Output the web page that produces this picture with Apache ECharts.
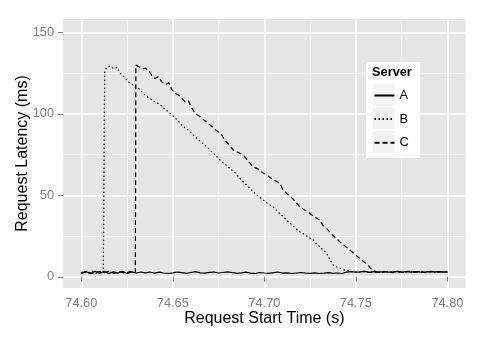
<!DOCTYPE html>
<html>
<head>
<meta charset="utf-8">
<script src="https://cdn.jsdelivr.net/npm/echarts@6/dist/echarts.min.js"></script>
<style>
  html, body { margin: 0; padding: 0; background: #fff; }
  #chart { width: 485px; height: 339px; }
</style>
</head>
<body>
<div id="chart"></div>
<script>
// axis ticks
const xTicks = [74.60, 74.65, 74.70, 74.75, 74.80];
const xMinorTicks = [74.625, 74.675, 74.725, 74.775];
const yTicks = [0, 50, 100, 150];
const yMinorTicks = [25, 75, 125];
const servers = ['A', 'B', 'C'];

// server A
const aTime = [
  74.6000, 74.6025, 74.6050, 74.6075, 74.6100, 74.6125, 74.6150, 74.6175, 74.6200, 74.6225,
  74.6250, 74.6275, 74.6300, 74.6325, 74.6350, 74.6375, 74.6400, 74.6425, 74.6450, 74.6475,
  74.6500, 74.6525, 74.6550, 74.6575, 74.6600, 74.6625, 74.6650, 74.6675, 74.6700, 74.6725,
  74.6750, 74.6775, 74.6800, 74.6825, 74.6850, 74.6875, 74.6900, 74.6925, 74.6950, 74.6975,
  74.7000, 74.7025, 74.7050, 74.7075, 74.7100, 74.7125, 74.7150, 74.7175, 74.7200, 74.7225,
  74.7250, 74.7275, 74.7300, 74.7325, 74.7350, 74.7375, 74.7400, 74.7425, 74.7450, 74.7475,
  74.7500, 74.7525, 74.7550, 74.7575, 74.7600, 74.7625, 74.7650, 74.7675, 74.7700, 74.7725,
  74.7750, 74.7775, 74.7800, 74.7825, 74.7850, 74.7875, 74.7900, 74.7925, 74.7950, 74.7975,
  74.8000
];
const aLatency = [
  2.0, 3.2, 1.9, 3.4, 2.1, 3.3, 2.0, 3.1, 2.2, 3.4,
  2.0, 3.0, 2.3, 2.9, 2.4, 2.9, 2.2, 2.8, 2.3, 2.0,
  2.4, 2.9, 2.5, 2.1, 2.6, 3.1, 2.4, 2.2, 2.7, 2.9,
  2.3, 2.6, 3.0, 2.5, 2.1, 2.4, 2.8, 2.2, 2.0, 2.6,
  2.3, 2.1, 2.5, 2.9, 2.2, 2.4, 2.0, 2.3, 2.6, 2.2,
  2.1, 2.4, 2.0, 2.2, 2.5, 2.1, 2.3, 2.0, 2.9, 3.2,
  2.8, 3.0, 3.3, 2.7, 3.1, 2.9, 3.2, 2.8, 3.0, 3.3,
  2.9, 3.1, 2.8, 3.2, 3.0, 2.9, 3.1, 3.0, 3.2, 2.9,
  3.1
];

// server B
const bTime = [
  74.6000, 74.6020, 74.6040, 74.6060, 74.6080, 74.6100, 74.6120, 74.6128, 74.6140, 74.6158,
  74.6175, 74.6195, 74.6213, 74.6235, 74.6258, 74.6275, 74.6294, 74.6310, 74.6331, 74.6350,
  74.6370, 74.6403, 74.6430, 74.6455, 74.6476, 74.6500, 74.6525, 74.6549, 74.6575, 74.6600,
  74.6622, 74.6645, 74.6670, 74.6694, 74.6720, 74.6745, 74.6767, 74.6790, 74.6812, 74.6840,
  74.6867, 74.6890, 74.6915, 74.6939, 74.6965, 74.6994, 74.7020, 74.7049, 74.7075, 74.7100,
  74.7122, 74.7150, 74.7172, 74.7194, 74.7220, 74.7245, 74.7267, 74.7290, 74.7315, 74.7340,
  74.7358, 74.7376, 74.7395, 74.7412, 74.7439, 74.7460, 74.7485, 74.7510, 74.7540, 74.7570,
  74.7600, 74.7630, 74.7660, 74.7690, 74.7720, 74.7750, 74.7780, 74.7810, 74.7840, 74.7870,
  74.7900, 74.7930, 74.7960, 74.8000
];
const bLatency = [
  2.6, 3.3, 2.1, 3.4, 2.2, 3.2, 2.5, 126.5, 128.6, 129.3,
  127.8, 128.4, 124.8, 122.6, 119.6, 118.3, 116.6, 115.9, 113.5, 111.2,
  109.8, 107.4, 105.6, 103.1, 101.2, 98.9, 96.0, 93.1, 90.8, 88.4,
  85.9, 83.6, 81.3, 78.8, 75.9, 73.2, 70.6, 68.7, 66.5, 63.8,
  60.4, 57.6, 55.0, 52.1, 49.6, 47.1, 44.8, 42.9, 39.8, 37.2,
  34.8, 31.9, 29.7, 27.6, 25.8, 24.0, 22.5, 19.6, 17.1, 14.4,
  10.5, 7.2, 6.0, 5.2, 4.1, 3.6, 3.1, 2.7, 3.3, 2.6,
  3.2, 2.8, 3.4, 2.7, 3.1, 2.6, 3.3, 2.9, 3.2, 2.7,
  3.3, 2.8, 3.2, 2.9
];

// server C
const cTime = [
  74.6000, 74.6030, 74.6060, 74.6090, 74.6120, 74.6150, 74.6180, 74.6210, 74.6240, 74.6270,
  74.6295, 74.6298, 74.6315, 74.6335, 74.6350, 74.6367, 74.6385, 74.6403, 74.6420, 74.6440,
  74.6460, 74.6478, 74.6495, 74.6513, 74.6530, 74.6550, 74.6567, 74.6585, 74.6600, 74.6622,
  74.6645, 74.6670, 74.6694, 74.6720, 74.6745, 74.6767, 74.6790, 74.6810, 74.6830, 74.6860,
  74.6885, 74.6910, 74.6939, 74.6965, 74.6990, 74.7013, 74.7040, 74.7065, 74.7085, 74.7100,
  74.7122, 74.7150, 74.7172, 74.7194, 74.7220, 74.7249, 74.7275, 74.7303, 74.7320, 74.7340,
  74.7360, 74.7385, 74.7412, 74.7440, 74.7467, 74.7495, 74.7521, 74.7545, 74.7567, 74.7580,
  74.7594, 74.7610, 74.7640, 74.7670, 74.7700, 74.7730, 74.7760, 74.7790, 74.7820, 74.7850,
  74.7880, 74.7910, 74.7940, 74.7970, 74.8000
];
const cLatency = [
  2.4, 3.3, 2.0, 3.2, 2.3, 3.4, 2.1, 3.1, 2.2, 3.3,
  2.6, 129.9, 128.9, 127.5, 128.0, 126.8, 123.5, 121.7, 122.8, 119.6,
  118.0, 119.0, 114.8, 112.5, 111.6, 109.3, 107.4, 108.0, 104.2, 100.2,
  98.6, 96.2, 94.1, 91.5, 89.2, 86.9, 83.0, 80.9, 77.7, 76.2,
  74.7, 71.2, 67.5, 66.1, 64.0, 62.4, 60.1, 58.6, 57.3, 53.6,
  51.2, 48.5, 45.8, 42.9, 41.0, 38.9, 36.6, 34.8, 31.6, 29.7,
  26.8, 24.3, 21.5, 18.9, 16.4, 13.7, 11.3, 9.1, 7.2, 5.2,
  4.1, 3.0, 2.6, 3.3, 2.5, 3.2, 2.7, 3.4, 2.6, 3.1,
  2.5, 3.3, 2.8, 3.2, 2.7
];

const FONT = '"Liberation Sans", Arial, Helvetica, sans-serif';
const pairs = (t, v) => t.map((x, i) => [x, v[i]]);

const chart = echarts.init(document.getElementById('chart'), null, { renderer: 'canvas' });

const xBase = {
  type: 'value',
  min: 74.59,
  max: 74.81,
  axisLine: { show: false }
};
const yBase = {
  type: 'value',
  min: -6.9,
  max: 158.2,
  axisLine: { show: false }
};

chart.setOption({
  animation: false,
  backgroundColor: '#fff',
  textStyle: { fontFamily: FONT },
  grid: {
    left: 63, top: 19, right: 19.3, bottom: 51,
    show: true, backgroundColor: '#E5E5E5', borderWidth: 0
  },
  xAxis: [
    {
      ...xBase,
      name: 'Request Start Time (s)',
      nameLocation: 'middle',
      nameGap: 22.5,
      nameMoveOverlap: false,
      nameTextStyle: { fontSize: 16, color: '#000', fontFamily: FONT },
      axisTick: { show: true, length: 5, customValues: xTicks, lineStyle: { color: '#7F7F7F', width: 1 } },
      axisLabel: {
        customValues: xTicks, margin: 9, fontSize: 12.8, color: '#7F7F7F', fontFamily: FONT,
        formatter: v => v.toFixed(2)
      },
      splitLine: { show: true, lineStyle: { color: '#FFFFFF', width: 1.5 } }
    },
    {
      ...xBase,
      axisTick: { show: false, customValues: xMinorTicks },
      axisLabel: { show: false },
      splitLine: { show: true, lineStyle: { color: '#F2F2F2', width: 0.8 } }
    }
  ],
  yAxis: [
    {
      ...yBase,
      name: 'Request Latency (ms)',
      nameLocation: 'middle',
      nameGap: 32,
      nameMoveOverlap: false,
      nameTextStyle: { fontSize: 16, color: '#000', fontFamily: FONT },
      axisTick: { show: true, length: 5, customValues: yTicks, lineStyle: { color: '#7F7F7F', width: 1 } },
      axisLabel: { customValues: yTicks, margin: 9, fontSize: 12.8, color: '#7F7F7F', fontFamily: FONT },
      splitLine: { show: true, lineStyle: { color: '#FFFFFF', width: 1.5 } }
    },
    {
      ...yBase,
      axisTick: { show: false, customValues: yMinorTicks },
      axisLabel: { show: false },
      splitLine: { show: true, lineStyle: { color: '#F2F2F2', width: 0.8 } }
    }
  ],
  graphic: [
    { type: 'rect', z: 1, shape: { x: 366, y: 62, width: 54, height: 96 }, style: { fill: '#FFFFFF' } },
    { type: 'rect', z: 1, shape: { x: 373, y: 84, width: 21.5, height: 22 }, style: { fill: '#F2F2F2' } },
    { type: 'rect', z: 1, shape: { x: 373, y: 107.3, width: 21.5, height: 22 }, style: { fill: '#F2F2F2' } },
    { type: 'rect', z: 1, shape: { x: 373, y: 130.7, width: 21.5, height: 22 }, style: { fill: '#F2F2F2' } },
    {
      type: 'text', z: 2, left: 372, top: 66,
      style: { text: 'Server', font: 'bold 12.8px ' + FONT, fill: '#000' }
    }
  ],
  legend: {
    z: 5,
    data: servers,
    orient: 'vertical',
    left: 373.5,
    top: 89,
    padding: 0,
    itemWidth: 20,
    itemHeight: 16,
    itemGap: 10.6,
    itemStyle: { opacity: 0 },
    textStyle: { fontSize: 12.8, color: '#000', fontFamily: FONT, padding: [0, 0, 0, 0] },
    selectedMode: false
  },
  series: [
    {
      name: 'A', type: 'line', symbol: 'none', data: pairs(aTime, aLatency),
      lineStyle: { color: '#000', width: 1.2, type: 'solid' }, itemStyle: { color: '#000' }
    },
    {
      name: 'B', type: 'line', symbol: 'none', data: pairs(bTime, bLatency),
      lineStyle: { color: '#000', width: 1.2, type: [1.5, 2.5] }, itemStyle: { color: '#000' }
    },
    {
      name: 'C', type: 'line', symbol: 'none', data: pairs(cTime, cLatency),
      lineStyle: { color: '#000', width: 1.2, type: [5, 3] }, itemStyle: { color: '#000' }
    }
  ]
});
</script>
</body>
</html>
